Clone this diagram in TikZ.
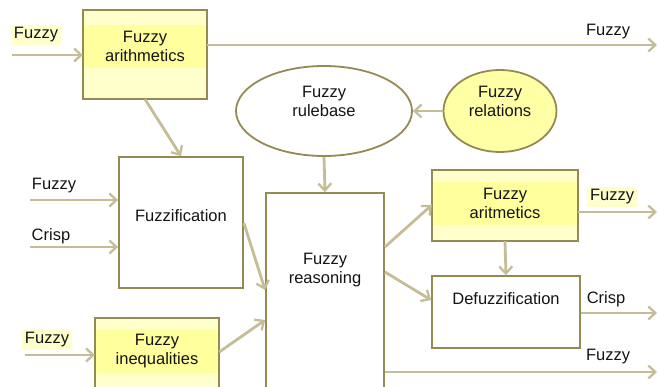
\documentclass[tikz,border=0pt]{standalone}
\usepackage{fontspec}
\setmainfont{Liberation Sans}
\usetikzlibrary{arrows.meta,shapes.geometric}
\definecolor{boxc}{HTML}{948A54}
\definecolor{linec}{HTML}{C4BD97}
\definecolor{paley}{HTML}{FFFFCC}
\definecolor{bandy}{HTML}{FFFF9E}
\definecolor{ellyel}{HTML}{FFFFA6}
\definecolor{txtc}{HTML}{141414}
\tikzset{
  x=1pt, y=-1pt,
  every node/.style={font=\fontsize{16.5}{19}\selectfont, text=txtc},
  rbox/.style={draw=boxc, line width=1.8pt, fill=white, inner sep=0pt},
  ybox/.style={fill=paley, inner sep=0pt},
  yframe/.style={draw=boxc, line width=1.8pt},
  ell/.style={ellipse, draw=boxc, line width=1.8pt, inner sep=0pt},
  txt/.style={align=center, inner sep=0pt},
  lbl/.style={fill=paley, inner sep=3pt},
  plain/.style={inner sep=0pt},
  conn/.style={draw=linec, line width=2.8pt, -{Straight Barb[length=7pt,width=13pt,line width=2.3pt]}},
}
\begin{document}
\begin{tikzpicture}
\useasboundingbox (0,0) rectangle (659,387);
\clip (0,0) rectangle (659,387);
% boxes
\node[ybox, minimum width=124pt, minimum height=89pt] (arith) at (145,54.5) {};
\fill[bandy] (84,25) rectangle (206,68);
\draw[yframe] (arith.north west) rectangle (arith.south east);
\node[txt] (arithT) at (145,46) {Fuzzy\\arithmetics};

\node[ybox, minimum width=124pt, minimum height=110pt] (ineq) at (157,373) {};
\fill[bandy] (96,330) rectangle (218,373);
\draw[yframe] (ineq.north west) rectangle (ineq.south east);
\node[txt] (ineqT) at (157,351) {Fuzzy\\inequalities};

\node[ybox, minimum width=146pt, minimum height=71pt] (arit) at (505,205.5) {};
\fill[bandy] (433,182) rectangle (577,225);
\draw[yframe] (arit.north west) rectangle (arit.south east);
\node[txt] (aritT) at (505,203) {Fuzzy\\aritmetics};

\node[rbox, minimum width=124pt, minimum height=131pt] (fuzz) at (181,222.5) {};
\node[txt] (fuzzT) at (181,216) {Fuzzification};

\node[rbox, minimum width=118pt, minimum height=230pt] (reason) at (325,308) {};
\node[txt] (reasonT) at (325,270) {Fuzzy\\reasoning};

\node[rbox, minimum width=148pt, minimum height=72pt] (defuzz) at (506,312) {};
\node[txt] (defuzzT) at (506,299) {Defuzzification};

\node[ell, fill=white, minimum width=176pt, minimum height=90pt] (rule) at (324,111) {};
\node[txt] (ruleT) at (324,101) {Fuzzy\\rulebase};
\node[ell, fill=ellyel, minimum width=113pt, minimum height=82pt] (rel) at (500,111) {};
\node[txt] (relT) at (500,101) {Fuzzy\\relations};

% labels
\node[lbl] (l1) at (36,35) {Fuzzy};
\node[plain] (l2) at (608,32) {Fuzzy};
\node[plain] (l3) at (54,186) {Fuzzy};
\node[plain] (l4) at (51,236) {Crisp};
\node[lbl] (l5) at (47,340) {Fuzzy};
\node[lbl] (l6) at (612,197) {Fuzzy};
\node[plain] (l7) at (606,299) {Crisp};
\node[plain] (l8) at (608,357) {Fuzzy};

% free ends
\coordinate (in1) at (12,55);
\coordinate (out1) at (657,45);
\coordinate (in2) at (30,200);
\coordinate (in3) at (30,247);
\coordinate (in4) at (25,355);
\coordinate (out2) at (657,212);
\coordinate (out3) at (657,313);
\coordinate (out4) at (657,372);

% connectors
\draw[conn] (in1) -- (in1 -| arith.west);
\draw[conn] (arith.east |- out1) -- (out1);
\draw[conn] (arith.south) -- (fuzz.north);
\draw[conn] (rel.west) -- (rule.east);
\draw[conn] (rule.south) -- (reason.north);
\draw[conn] (in2) -- (in2 -| fuzz.west);
\draw[conn] (in3) -- (in3 -| fuzz.west);
\draw[conn] (in4) -- (in4 -| ineq.west);
\draw[conn] (fuzz.east |- 0,223) -- (reason.west |- 0,290);
\draw[conn] (ineq.east |- 0,352) -- (reason.west |- 0,320);
\draw[conn] (reason.east |- 0,247) -- (arit.west |- 0,205);
\draw[conn] (reason.east |- 0,272) -- (defuzz.west |- 0,300);
\draw[conn] (arit.south) -- (defuzz.north);
\draw[conn] (arit.east |- out2) -- (out2);
\draw[conn] (defuzz.east |- out3) -- (out3);
\draw[conn] (reason.east |- out4) -- (out4);
\end{tikzpicture}
\end{document}
